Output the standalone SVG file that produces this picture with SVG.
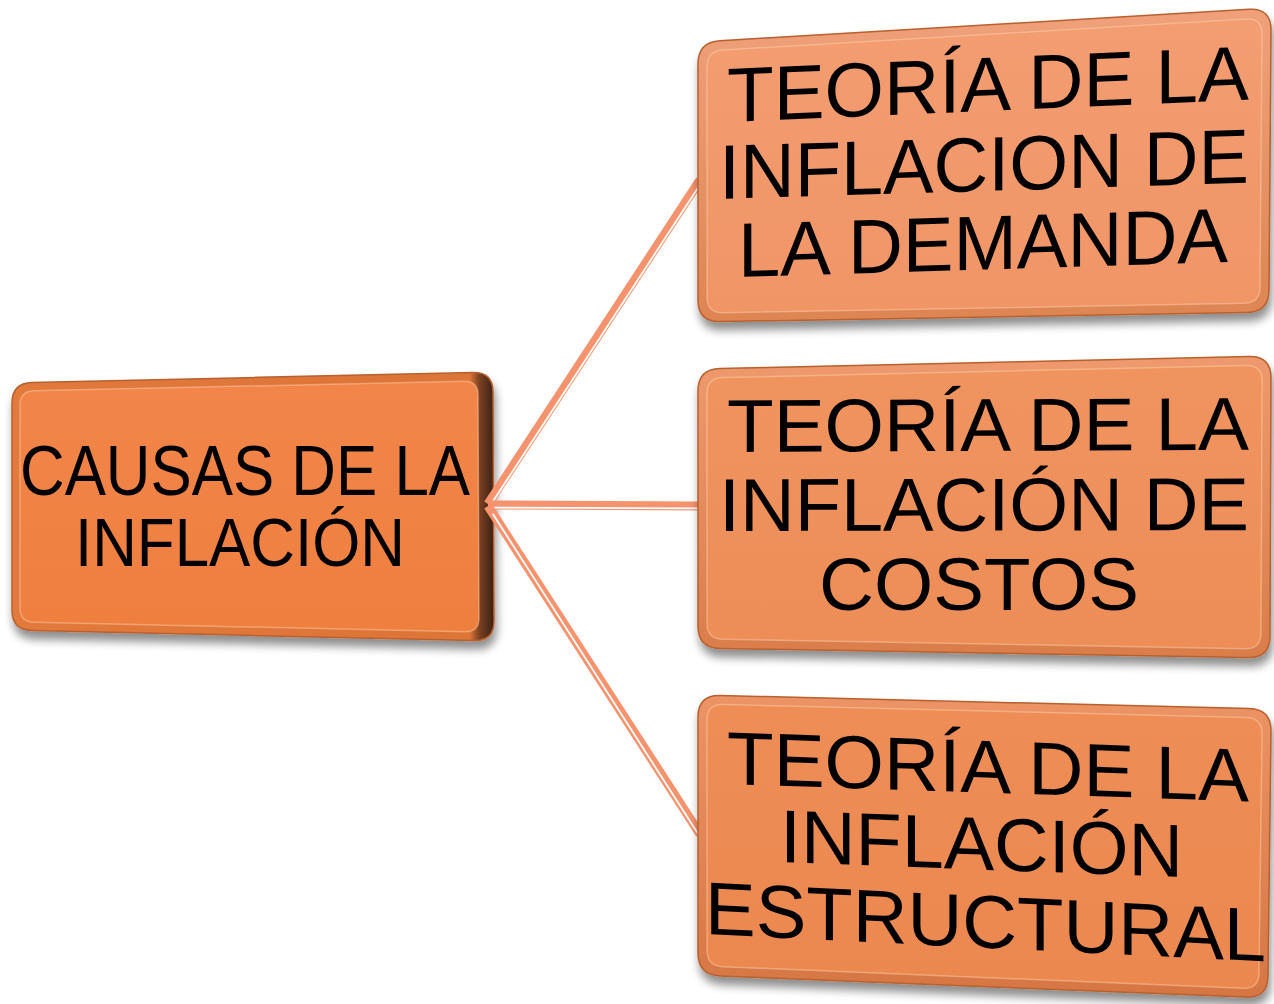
<svg xmlns="http://www.w3.org/2000/svg" width="1274" height="1004" viewBox="0 0 1274 1004">
<style>
.t{font-family:"Liberation Sans",Arial,sans-serif;fill:#000}
.rim{stroke:#b8602f;stroke-width:1.5}
.face{stroke:#ffd2aa;stroke-width:1.5;stroke-opacity:.45}
.con{stroke:#f4936d;stroke-width:9;stroke-linecap:butt;fill:none}
.gap{stroke:#ffffff;stroke-width:1.8;fill:none}
</style>
<defs>
<filter id="sh" x="-10%" y="-10%" width="120%" height="130%">
<feGaussianBlur in="SourceAlpha" stdDeviation="5"/>
<feOffset dx="2" dy="8" result="b"/>
<feComponentTransfer><feFuncA type="linear" slope="0.45"/></feComponentTransfer>
<feMerge><feMergeNode/><feMergeNode in="SourceGraphic"/></feMerge>
</filter>
<linearGradient id="gL" gradientUnits="userSpaceOnUse" x1="12" y1="0" x2="494" y2="0">
<stop offset="0" stop-color="#e2793c"/><stop offset="0.95" stop-color="#dc7438"/><stop offset="0.97" stop-color="#7a4022"/><stop offset="1" stop-color="#3a2115"/>
</linearGradient>
<linearGradient id="fL" x1="0" y1="0" x2="0" y2="1">
<stop offset="0" stop-color="#f2854a"/><stop offset="1" stop-color="#ee7f3f"/>
</linearGradient>
<linearGradient id="r1" x1="0" y1="0" x2="0" y2="1">
<stop offset="0" stop-color="#f0a17a"/><stop offset="1" stop-color="#dd8552"/>
</linearGradient>
<linearGradient id="f1" x1="0" y1="0" x2="0" y2="1">
<stop offset="0" stop-color="#f39d72"/><stop offset="1" stop-color="#f09566"/>
</linearGradient>
<linearGradient id="r2" x1="0" y1="0" x2="0" y2="1">
<stop offset="0" stop-color="#ee9a6e"/><stop offset="1" stop-color="#d97d4a"/>
</linearGradient>
<linearGradient id="f2" x1="0" y1="0" x2="0" y2="1">
<stop offset="0" stop-color="#f0945f"/><stop offset="1" stop-color="#ed8d58"/>
</linearGradient>
<linearGradient id="r3" x1="0" y1="0" x2="0" y2="1">
<stop offset="0" stop-color="#ec9466"/><stop offset="1" stop-color="#d57643"/>
</linearGradient>
<linearGradient id="f3" x1="0" y1="0" x2="0" y2="1">
<stop offset="0" stop-color="#ee8d56"/><stop offset="1" stop-color="#eb8850"/>
</linearGradient>
</defs>
<rect width="1274" height="1004" fill="#ffffff"/>

<g id="causas">
<path class="rim" filter="url(#sh)" fill="url(#gL)" d="M12,403 Q12,383 32,382.5 L473,372.5 Q493,372 493,392 L494,621 Q494,641 474,640.5 L32,630.5 Q12,630 12,610 Z"/>
<path class="face" fill="url(#fL)" d="M20,405 Q20,391 34,390.7 L464,381.3 Q478,381 478,395 L479,618 Q479,632 465,631.7 L34,622.3 Q20,622 20,608 Z"/>
<text class="t" x="20" y="495" font-size="70" textLength="450" lengthAdjust="spacingAndGlyphs">CAUSAS DE LA</text>
<text class="t" x="75" y="566" font-size="69" textLength="330" lengthAdjust="spacingAndGlyphs">INFLACIÓN</text>
</g>

<g id="connectors">
<line class="con" x1="488" y1="504" x2="700" y2="180"/>
<line class="gap" x1="493.3" y1="500.8" x2="701.3" y2="182.8"/>
<line class="con" x1="488" y1="505" x2="700" y2="506"/>
<line class="gap" x1="494" y1="507.6" x2="700" y2="508.4"/>
<line class="con" x1="488" y1="506" x2="700" y2="834"/>
<line class="gap" x1="492.7" y1="513.8" x2="698.7" y2="834.8"/>
</g>

<g id="demanda">
<path class="rim" filter="url(#sh)" fill="url(#r1)" d="M698,64 Q698,42 720,40.7 L1249,9.3 Q1271,8 1271,30 L1269,290 Q1269,312 1247,312.4 L720,321.6 Q698,322 698,300 Z"/>
<path class="face" fill="url(#f1)" d="M707,67 Q707,51 723,50 L1246,19 Q1262,18 1262,34 L1260,287 Q1260,303 1244,303.3 L723,312.7 Q707,313 707,297 Z"/>
<text class="t" transform="translate(727,122) skewY(-2.45)" font-size="77" textLength="522" lengthAdjust="spacingAndGlyphs">TEORÍA DE LA</text>
<text class="t" transform="translate(719,199) skewY(-1.75)" font-size="77" textLength="530" lengthAdjust="spacingAndGlyphs">INFLACION DE</text>
<text class="t" transform="translate(738,277) skewY(-1.75)" font-size="77" textLength="490" lengthAdjust="spacingAndGlyphs">LA DEMANDA</text>
</g>

<g id="costos">
<path class="rim" filter="url(#sh)" fill="url(#r2)" d="M698,391 Q698,369 720,368.5 L1249,356.5 Q1271,356 1271,378 L1270,636 Q1270,658 1248,657.6 L720,648.4 Q698,648 698,626 Z"/>
<path class="face" fill="url(#f2)" d="M707,394 Q707,378 723,377.6 L1246,365.4 Q1262,365 1262,381 L1261,633 Q1261,649 1245,648.7 L723,639.3 Q707,639 707,623 Z"/>
<text class="t" transform="translate(727,452) skewY(-0.25)" font-size="75" textLength="522" lengthAdjust="spacingAndGlyphs">TEORÍA DE LA</text>
<text class="t" transform="translate(719,531) skewY(-0.1)" font-size="75" textLength="530" lengthAdjust="spacingAndGlyphs">INFLACIÓN DE</text>
<text class="t" transform="translate(819,610)" font-size="75" textLength="320" lengthAdjust="spacingAndGlyphs">COSTOS</text>
</g>

<g id="estructural">
<path class="rim" filter="url(#sh)" fill="url(#r3)" d="M698,717 Q698,695 720,695.5 L1249,708.5 Q1271,709 1271,731 L1268,976 Q1268,998 1246,997.1 L720,975.9 Q698,975 698,953 Z"/>
<path class="face" fill="url(#f3)" d="M707,720 Q707,704 723,704.4 L1246,717.6 Q1262,718 1262,734 L1259,973 Q1259,989 1243,988.3 L723,966.7 Q707,966 707,950 Z"/>
<text class="t" transform="translate(727,784) skewY(1.9)" font-size="75" textLength="522" lengthAdjust="spacingAndGlyphs">TEORÍA DE LA</text>
<text class="t" transform="translate(780,862) skewY(2.15)" font-size="75" textLength="403" lengthAdjust="spacingAndGlyphs">INFLACIÓN</text>
<text class="t" transform="translate(705,934) skewY(2.8)" font-size="75" textLength="561" lengthAdjust="spacingAndGlyphs">ESTRUCTURAL</text>
</g>
</svg>
